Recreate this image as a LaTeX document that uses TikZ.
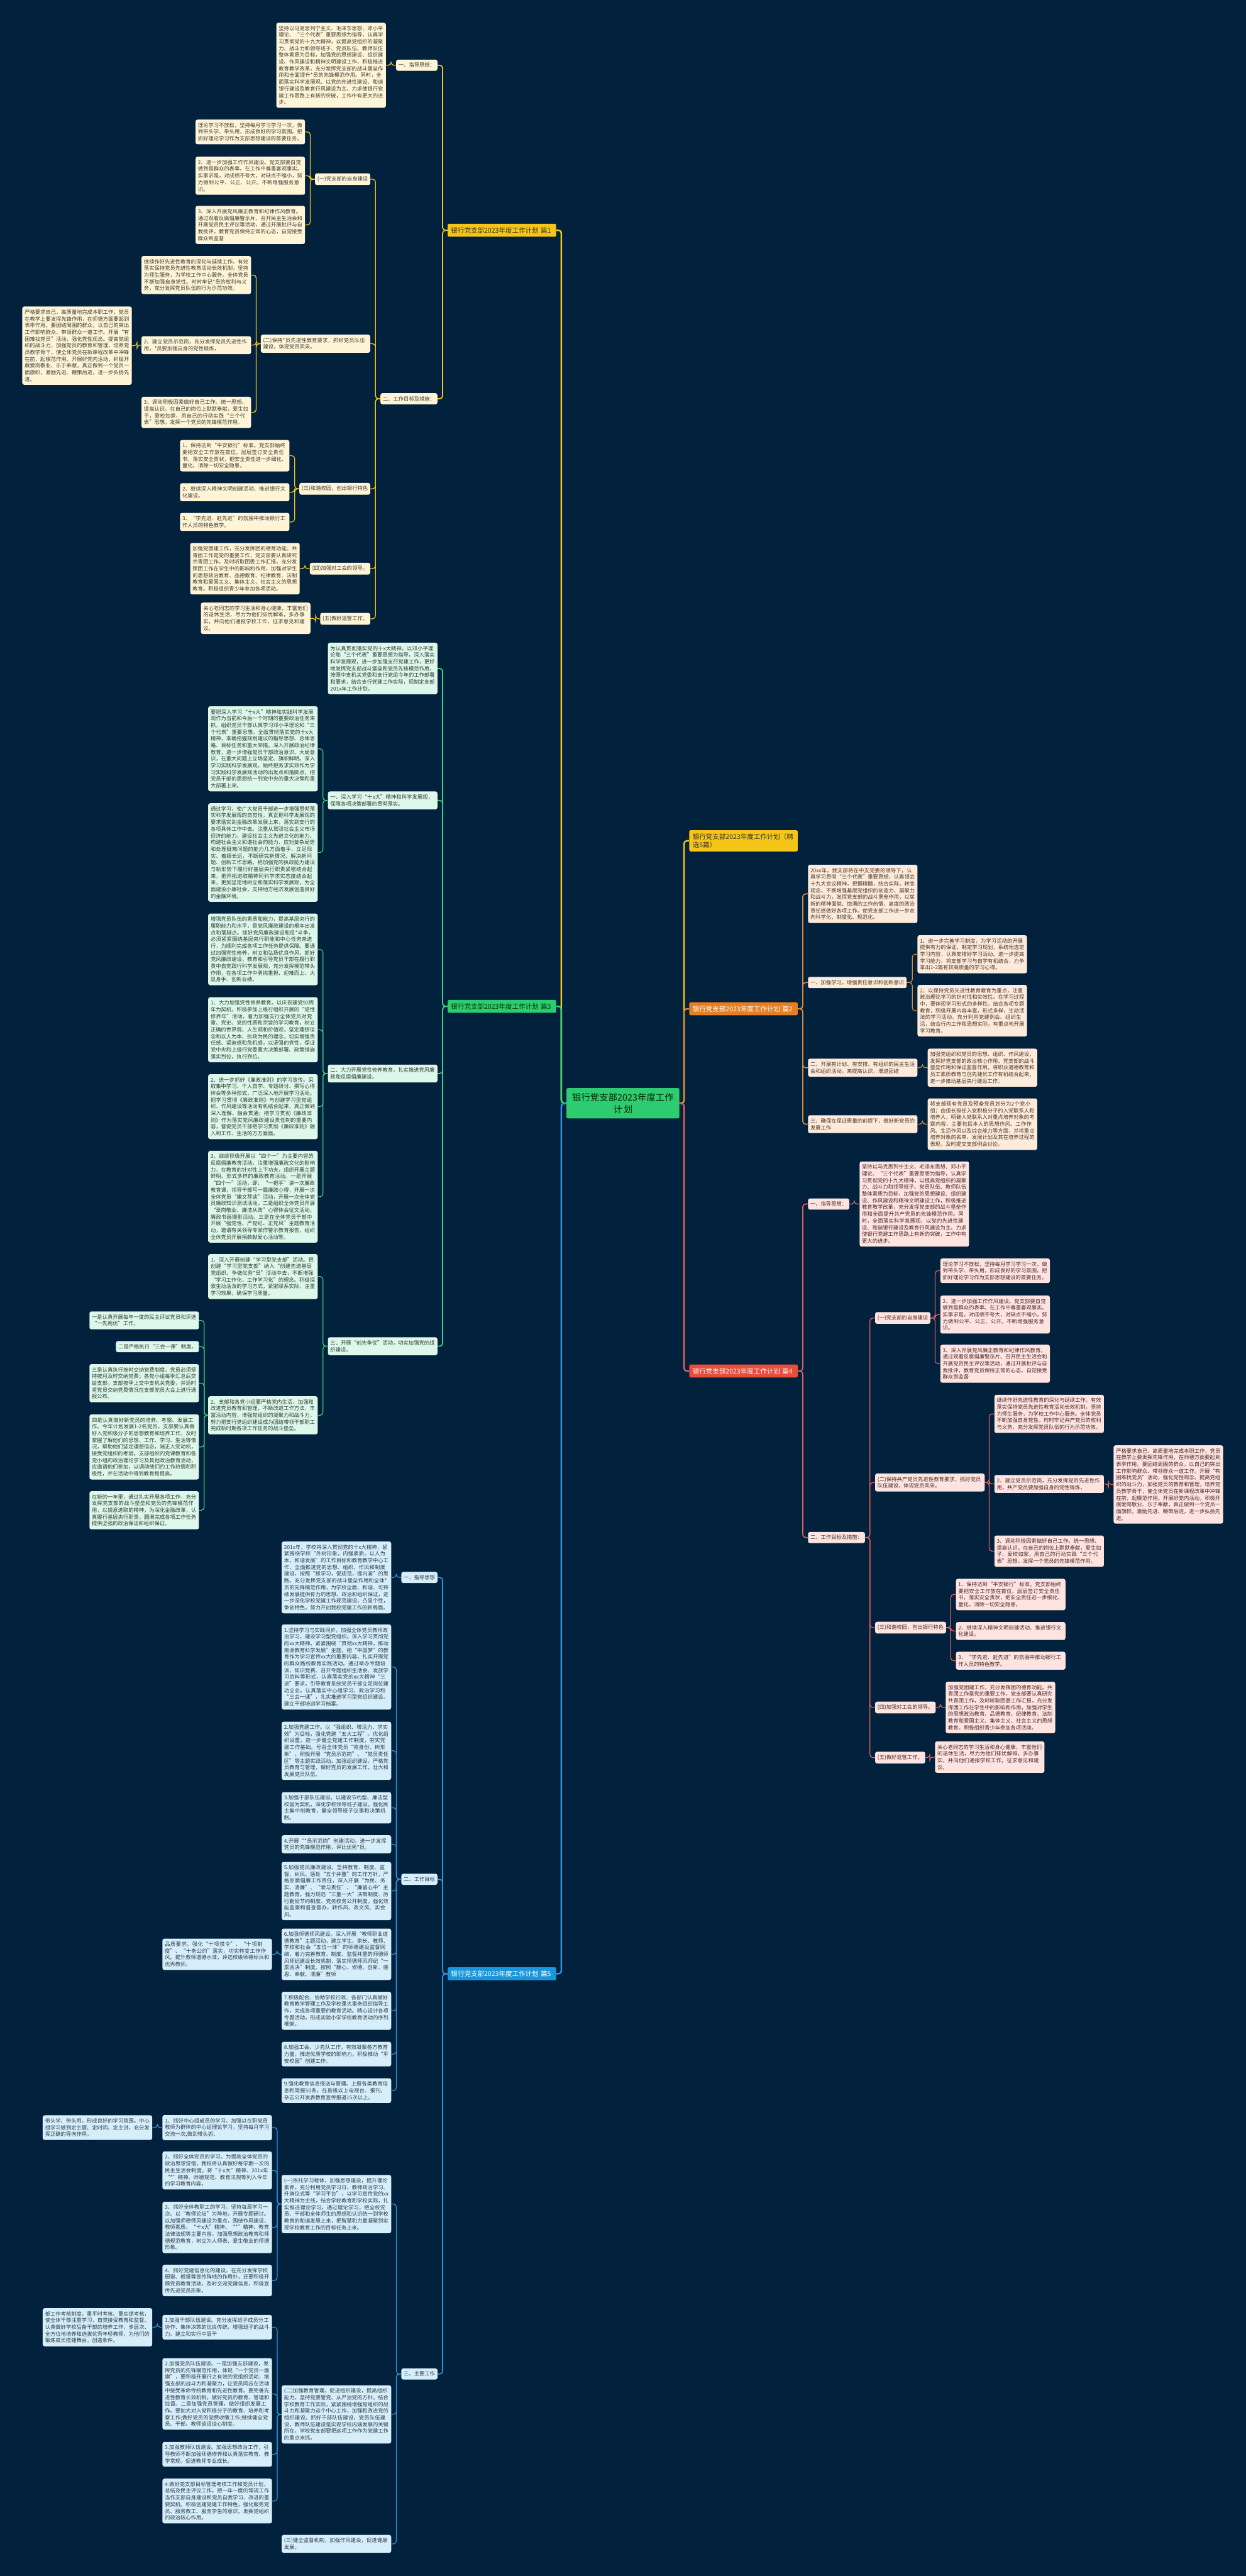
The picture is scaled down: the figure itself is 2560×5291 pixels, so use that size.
\documentclass[tikz,border=0pt]{standalone}
\usepackage{fontspec}
\setmainfont{Noto Sans CJK SC}
\usetikzlibrary{calc}
\XeTeXlinebreaklocale "zh"
\XeTeXlinebreakskip=0pt plus 1pt
\definecolor{bg}{HTML}{02213D}
\definecolor{cY}{HTML}{F0C419}\definecolor{fY}{HTML}{FFF5D6}\definecolor{tY}{HTML}{3B3B3B}
\definecolor{cG}{HTML}{3CCF7C}\definecolor{fG}{HTML}{DDF7EA}\definecolor{tG}{HTML}{2F3B33}
\definecolor{cB}{HTML}{2F95DC}\definecolor{fB}{HTML}{D6EEFA}\definecolor{tB}{HTML}{2C3A44}
\definecolor{cO}{HTML}{D58A3E}\definecolor{fO}{HTML}{FCEADB}\definecolor{tO}{HTML}{4A3624}
\definecolor{cR}{HTML}{E0605B}\definecolor{fR}{HTML}{FDE4E1}\definecolor{tR}{HTML}{4A2828}
\definecolor{lbY}{HTML}{F5C518}\definecolor{lbG}{HTML}{2ECC71}\definecolor{lbB}{HTML}{1A96DC}
\definecolor{lbO}{HTML}{E67E22}\definecolor{lbR}{HTML}{E74C3C}
\newcommand\lfnt{\fontsize{10.7pt}{13.8pt}\selectfont}
\newcommand\bfnt{\fontsize{13.6pt}{16.5pt}\selectfont}
\newcommand\cfnt{\fontsize{18.5pt}{25pt}\selectfont}
\newcommand\lkL[3]{\draw[#1] (#2.west) -- ($(#3.east |- #2.west)+(10.5,0)$) |- (#3.east);}
\newcommand\lkR[3]{\draw[#1] (#2.east) -- ($(#3.west |- #2.east)+(-10.5,0)$) |- (#3.west);}
% shared texts
\newcommand\tGuide[1]{坚持以马克思列宁主义、毛泽东思想、邓小平理论、“三个代表”重要思想为指导，认真学习贯彻党的十九大精神，以提高党组织的凝聚力、战斗力和领导班子、党员队伍、教师队伍整体素质为目标，加强党的思想建设、组织建设、作风建设和精神文明建设工作，积极推进教育教学改革，充分发挥党支部的战斗堡垒作用和全面提升#1的先锋模范作用。同时，全面落实科学发展观、以党的先进性建设、和谐银行建设及教育行风建设为主。力求使银行党建工作思路上有新的突破，工作中有更大的进步。}
\newcommand\tBa{理论学习不放松，坚持每月学习学习一次，做到带头学、带头用，形成良好的学习氛围。把抓好理论学习作为支部思想建设的首要任务。}
\newcommand\tBb{2、进一步加强工作作风建设。党支部要自觉做到是群众的表率。在工作中尊重客观事实。实事求是，对成绩不夸大，对缺点不缩小，努力做到公平、公正、公开。不断增强服务意识。}
\newcommand\tBc{3、深入开展党风廉正教育和纪律作风教育。通过观看反腐倡廉警示片、召开民主生活会和开展党员民主评议等活动，通过开展批评与自我批评，教育党员保持正常的心态，自觉接受群众到监督}
\newcommand\tBk{严格要求自己，高质量地完成本职工作，党员在教学上要发挥先锋作用，在师德方面要起到表率作用。要团结周围的群众，以自己的突出工作影响群众、带领群众一道工作。开展“有困难找党员”活动，强化党性观念。提高党组织的战斗力，加强党员的教育和管理，培养党员教学骨干，使全体党员在新课程改革中冲锋在前，起模范作用。开展好党内活动，积极开展爱岗敬业、乐于奉献，真正做到一个党员一面旗帜，激励先进、鞭策后进，进一步弘扬先进。}
\newcommand\tBm{3、调动积极因素做好自己工作。统一思想、提高认识。在自己的岗位上默默奉献，爱生如子，爱校如家，用自己的行动实践“三个代表”思想。发挥一个党员的先锋模范作用。}
\newcommand\tBn{1、保持达到“平安银行”标准。党支部始终要把安全工作放在首位，层层签订安全责任书，落实安全责状，把安全责任进一步细化、量化。消除一切安全隐患。}
\newcommand\tBo{2、继续深入精神文明创建活动、推进银行文化建设。}
\newcommand\tBp{3、“学先进、赶先进”的氛围中推动银行工作人员的特色教学。}
\newcommand\tBq{加强党团建工作，充分发挥团的德育功能。共青团工作是党的重要工作，党支部要认真研究共青团工作，及时听取团委工作汇报，充分发挥团工作在学生中的影响和作用，加强对学生的思想政治教育、品德教育、纪律教育、法制教育和爱国主义、集体主义、社会主义的思想教育。积极组织青少年参加各项活动。}
\newcommand\tBr{关心老同志的学习生活和身心健康，丰富他们的退休生活，尽力为他们排忧解难，多办事实，并向他们通报学校工作，征求意见和建议。}
\tikzset{
 box/.style={rounded corners=4pt, inner xsep=5pt, inner ysep=6.5pt, font=\lfnt, align=left},
 leaf/.style={box, text width=215pt},
 lab/.style={box},
 atE/.style={anchor=east}, atW/.style={anchor=west},
 kY/.style={fill=fY, text=tY}, kG/.style={fill=fG, text=tG}, kB/.style={fill=fB, text=tB},
 kO/.style={fill=fO, text=tO}, kR/.style={fill=fR, text=tR},
 blab/.style={rounded corners=3pt, inner xsep=7pt, inner ysep=7pt, font=\bfnt, text width=209pt, align=left},
 cenbox/.style={rounded corners=3pt, fill=lbG, text=black!85!green, font=\cfnt, text width=218pt, inner xsep=7pt, inner ysep=10pt, align=center},
 lnY/.style={draw=cY, line width=1.6pt, rounded corners=6pt},
 lnG/.style={draw=cG, line width=1.6pt, rounded corners=6pt},
 lnB/.style={draw=cB, line width=1.6pt, rounded corners=6pt},
 lnO/.style={draw=cO, line width=1.6pt, rounded corners=6pt},
 lnR/.style={draw=cR, line width=1.6pt, rounded corners=6pt},
 thick1/.style={line width=3.2pt},
 thick2/.style={line width=2.2pt}
}
\begin{document}
\begin{tikzpicture}[x=1pt,y=-1pt]
\useasboundingbox (0,0) rectangle (2560,5291);
\fill[bg] (0,0) rectangle (2560,5291);

\node[cenbox] (cen) at (1280,2266) {银行党支部2023年度工作\\计划};

% ===== branch labels
\node[blab, fill=lbY, text=black!80, atE] (P1) at (1143,473) {银行党支部2023年度工作计划 篇1};
\node[blab, fill=lbG, text=black!80!green, atE] (P3) at (1143,2067) {银行党支部2023年度工作计划 篇3};
\node[blab, fill=lbB, text=white, atE] (P5) at (1143,4054) {银行党支部2023年度工作计划 篇5};
\node[blab, fill=lbY, text=black!80, atW] (R0) at (1416,1727) {银行党支部2023年度工作计划（精\\选5篇）};
\node[blab, fill=lbO, text=white, atW] (P2) at (1416,2072) {银行党支部2023年度工作计划 篇2};
\node[blab, fill=lbR, text=white, atW] (P4) at (1416,2816) {银行党支部2023年度工作计划 篇4};

% ===== 篇1
\node[lab,kY,atE] (A1) at (899,134) {一、指导思想：};
\node[leaf,kY,atE] (A1a) at (793,134) {\tGuide{*员}};
\node[lab,kY,atE] (A2) at (899,819) {二、工作目标及措施：};
\node[lab,kY,atE] (B1) at (761,368) {(一)党支部的自身建设};
\node[leaf,kY,atE] (B1a) at (627,271) {\tBa};
\node[leaf,kY,atE] (B1b) at (627,361) {\tBb};
\node[leaf,kY,atE] (B1c) at (627,462) {\tBc};
\node[leaf,kY,atE] (B2) at (761,706) {(二)保持*员先进性教育要求，抓好党员队伍建设，体现党员风采。};
\node[leaf,kY,atE] (B2a) at (516,565) {继续作好先进性教育的深化与延续工作。有效落实保持党员先进性教育活动长效机制，坚持为师生服务，为学校工作中心服务。全体党员不断加强自身党性。时时牢记*员的权利与义务，充分发挥党员队伍的行为示范功效。};
\node[leaf,kY,atE] (B2b) at (516,709) {2、建立党员示范岗，充分发挥党员先进性作用，*员要加强自身的党性锻炼，};
\node[leaf,kY,atE] (B2b1) at (271,710) {\tBk};
\node[leaf,kY,atE] (B2c) at (516,847) {\tBm};
\node[lab,kY,atE] (B3) at (761,1004) {(三)和谐校园，创出银行特色};
\node[leaf,kY,atE] (B3a) at (595,936) {\tBn};
\node[leaf,kY,atE] (B3b) at (595,1011) {\tBo};
\node[leaf,kY,atE] (B3c) at (595,1072) {\tBp};
\node[lab,kY,atE] (B4) at (761,1168) {(四)加强对工会的领导。};
\node[leaf,kY,atE] (B4a) at (616,1168) {\tBq};
\node[lab,kY,atE] (B5) at (761,1271) {(五)做好退管工作。};
\node[leaf,kY,atE] (B5a) at (638,1270) {\tBr};

% ===== 篇3
\node[leaf,kG,atE] (C0) at (899,1373) {为认真贯彻落实党的十x大精神，以邓小平理论和“三个代表”重要思想为指导，深入落实科学发展观，进一步加强支行党建工作，更好地发挥党支部战斗堡垒和党员先锋模范作用，按照中支机关党委和支行党组今年的工作部署和要求，结合支行党建工作实际，现制定支部201x年工作计划。};
\node[leaf,kG,atE] (C1) at (899,1644) {一、深入学习“十x大”精神和科学发展观，保障各项决策部署的贯彻落实。};
\node[leaf,kG,atE] (C1a) at (653,1538) {要把深入学习“十x大”精神和实践科学发展观作为当前和今后一个时期的重要政治任务来抓，组织党员干部认真学习邓小平理论和“三个代表”重要思想，全面贯彻落实党的十x大精神，准确把握规划建议的指导思想、总体思路、目标任务和重大举措。深入开展政治纪律教育，进一步增强党员干部政治意识、大局意识，在重大问题上立场坚定、旗帜鲜明。深入学习实践科学发展观，始终把务求实效作为学习实践科学发展观活动的出发点和落脚点，把党员干部的思想统一到党中央的重大决策和重大部署上来。};
\node[leaf,kG,atE] (C1b) at (653,1751) {通过学习，使广大党员干部进一步增强贯彻落实科学发展观的自觉性，真正把科学发展观的要求落实到金融改革发展上来，落实到支行的各项具体工作中去。注重从驾驭社会主义市场经济的能力、建设社会主义先进文化的能力、构建社会主义和谐社会的能力、应对复杂局势和处理疑难问题的能力几方面着手，立足现实、着眼长远，不断研究新情况、解决新问题、创新工作思路。把加强党的执政能力建设与新形势下履行好基层央行职责紧密结合起来，把开拓进取精神同科学求实态度结合起来，更加坚定地树立和落实科学发展观，为全面建设小康社会，支持地方经济发展创造良好的金融环境。};
\node[leaf,kG,atE] (C2) at (899,2205) {二、大力开展党性修养教育，扎实推进党风廉政和反腐倡廉建设。};
\node[leaf,kG,atE] (C2a) at (653,1950) {增强党员队伍的素质和能力，提高基层央行的履职能力和水平，是党风廉政建设的根本出发点和落脚点。抓好党风廉政建设和反*斗争，必须紧紧围绕基层央行职能和中心任务来进行，为顺利完成各项工作任务提供保障。要通过加强党性修养，树立和弘扬优良作风，抓好党风廉政建设，教育和引导党员干部在履行职责中自觉践行科学发展观，充分发挥模范带头作用，在各项工作中勇挑重担、迎难而上、大显身手、创新业绩。};
\node[leaf,kG,atE] (C2b) at (653,2115) {1、大力加强党性修养教育。以庆祝建党92周年为契机，积极参加上级行组织开展的“党性修养年”活动，着力加强支行全体党员对党章、党史、党的性质和宗旨的学习教育，树立正确的世界观、人生观和价值观，坚定理想信念和以人为本、执政为民的理念，切实增强责任感、紧迫感和危机感，以坚强的党性，保证党中央和上级行党委重大决策部署、政策措施落实到位，执行到位。};
\node[leaf,kG,atE] (C2c) at (653,2273) {2、进一步抓好《廉政准则》的学习宣传。采取集中学习、个人自学、专题研讨、撰写心得体会等多种形式，广泛深入地开展学习活动。把学习贯彻《廉政准则》与创建学习型党组织、作风建设等活动有机结合起来，真正做到深入理解、融会贯通；把学习贯彻《廉政准则》作为落实党风廉政建设责任制的重要内容，督促党员干部把学习贯彻《廉政准则》融入到工作、生活的方方面面。};
\node[leaf,kG,atE] (C2d) at (653,2458) {3、继续积极开展以“四个一”为主要内容的反腐倡廉教育活动。注重增强廉政文化的影响力，在教育的针对性上下功夫，组织开展主题鲜明、形式多样的廉政教育活动。一是开展“四个一”活动，即：“一把手”讲一次廉政教育课，领导干部写一篇廉政心得，开展一次全体党员“廉文荐读”活动，开展一次全体党员廉政知识测试活动。二是组织全体党员开展“爱岗敬业、廉洁从政”心得体会征文活动、廉政书画摄影活动。三是在全体党员干部中开展“强党性、严党纪、正党风”主题教育活动，邀请有关领导专家作警示教育报告，组织全体党员开展捐款献爱心活动等。};
\node[leaf,kG,atE] (C3) at (899,2765) {三、开展“创先争优”活动，切实加强党的组织建设。};
\node[leaf,kG,atE] (C3a) at (653,2622) {1、深入开展创建“学习型党支部”活动。把创建“学习型党支部”纳入“创建先进基层党组织、争做优秀*员”活动中去，不断增强“学习工作化，工作学习化”的理念。积极探索生动活泼的学习方式，紧密联系实际，注重学习效果，确保学习质量。};
\node[leaf,kG,atE] (C3b) at (653,2907) {2、支部和各党小组要严格党内生活，加强和改进党员教育和管理，不断改进工作方法，丰富活动内容，增强党组织的凝聚力和战斗力，努力把支行党组织建设成为团结带领干部职工完成新时期各项工作任务的战斗堡垒。};
\node[leaf,kG,atE] (C3b1) at (409,2712) {一是认真开展每年一度的民主评议党员和评选“一先两优”工作。};
\node[lab,kG,atE] (C3b2) at (409,2766) {二是严格执行“三会一课”制度。};
\node[leaf,kG,atE] (C3b3) at (409,2841) {三是认真执行按时交纳党费制度。党员必须坚持按月及时交纳党费；各党小组每季汇总后交给支部，支部按季上交中支机关党委，并适时将党员交纳党费情况在支部党员大会上进行通报公布。};
\node[leaf,kG,atE] (C3b4) at (409,2972) {四是认真做好新党员的培养、考察、发展工作。今年计划发展1-2名党员，支部要认真做好入党积极分子的思想教育和培养工作，及时掌握了解他们的思想、工作、学习、生活等情况，帮助他们坚定理想信念，端正入党动机，接受党组织的考验。支部组织的党课教育和各党小组的政治理论学习及其他政治教育活动，应邀请他们参加，以调动他们的工作热情和积极性，并在活动中得到教育和提高。};
\node[leaf,kG,atE] (C3b5) at (409,3102) {在新的一年里，通过扎实开展各项工作，充分发挥党支部的战斗堡垒和党员的先锋模范作用，以锐意进取的精神，为深化金融改革，认真履行基层央行职责，圆满完成各项工作任务提供坚强的政治保证和组织保证。};

% ===== 篇5
\node[lab,kB,atE] (D1) at (899,3240) {一、指导思想};
\node[leaf,kB,atE] (D1a) at (804,3240) {201x年，学校将深入贯彻党的十x大精神，紧紧围绕学校“外树形象，内强素质，以人为本，和谐发展”的工作目标和教育教学中心工作，全面推进党的思想、组织、作风和制度建设，按照“抓学习，促规范，提内涵”的思路，充分发挥党支部的战斗堡垒作用和全体*员的先锋模范作用，为学校全面、和谐、可持续发展提供有力的思想、政治和组织保证，进一步深化学校党建工作规范建设，凸显个性，争创特色，努力开创我校党建工作的新局面。};
\node[lab,kB,atE] (D2) at (899,3860) {二、工作目标};
\node[leaf,kB,atE] (D2a) at (804,3424) {1.坚持学习与实践同步，加强全体党员教师政治学习，建设学习型党组织。深入学习贯彻党的xx大精神。紧紧围绕“贯彻xx大精神，推动南洲教育科学发展”主题，把“中国梦”的教育作为学习宣传xx大的重要内容，扎实开展党的群众路线教育实践活动。通过举办专题培训、知识竞赛、召开专题组织生活会、发放学习资料等形式，认真落实党的xx大精神“三进”要求，引导教育系统党员干部立足岗位建功立业。认真落实中心组学习、政治学习和“三会一课”，扎实推进学习型党组织建设。建立干部培训学习档案。};
\node[leaf,kB,atE] (D2b) at (804,3596) {2.加强党建工作。以“强组织、增活力、求实效”为目标，强化党建“五大工程”。优化组织设置，进一步健全党建工作制度，夯实党建工作基础。号召全体党员“亮身份、树形象”，积极开展“党员示范岗”、“党员责任区”等主题实践活动。加强组织建设，严格党员教育与管理，做好党员的发展工作，壮大和发展党员队伍。};
\node[leaf,kB,atE] (D2c) at (804,3713) {3.加强干部队伍建设。以建设节约型、廉洁型校园为契机，深化学校领导班子建设。强化民主集中制教育，健全领导班子议事和决策机制。};
\node[leaf,kB,atE] (D2d) at (804,3788) {4.开展“*员示范岗”创建活动，进一步发挥党员的先锋模范作用，评比优秀*员。};
\node[leaf,kB,atE] (D2e) at (804,3884) {5.加强党风廉政建设。坚持教育、制度、监督、纠风、惩处“五个并重”的工作方针，严格反腐倡廉工作责任，深入开展“为民、务实、清廉”、“爱与责任”、“廉留心中”主题教育。强力规范“三重一大”决策制度、厉行勤俭节约制度、党务校务公开制度。强化效能监察和督查督办，转作风、改文风、实会风。};
\node[leaf,kB,atE] (D2f) at (804,4014) {6.加强师德师风建设。深入开展“教师职业道德教育”主题活动，建立学生、家长、教师、学校和社会“五位一体”的师德建设监督网络，着力完善教育、制度、监督并重的师德师风师纪建设长效机制，落实师德师风师纪“一票否决”制度。按照“静心、修德、创新、感恩、奉献、清廉”教师};
\node[leaf,kB,atE] (D2f1) at (559,4014) {品质要求，强化“十项禁令”、“十项制度”、“十条公约”落实，切实转变工作作风。提升教师道德水准，评选校级师德标兵和优秀教师。};
\node[leaf,kB,atE] (D2g) at (804,4130) {7.积极配合、协助学校行政、各部门认真做好教育教学管理工作及学校重大事务组织指导工作，完成各项重要的教育活动。精心设计各项专题活动，形成实验小学学校教育活动的序列框架。};
\node[leaf,kB,atE] (D2h) at (804,4219) {8.加强工会、少先队工作，有效凝聚各方教育力量，推进优质学校的影响力，积极推动“平安校园”创建工作。};
\node[leaf,kB,atE] (D2i) at (804,4294) {9.强化教育信息报送与管理。上报各类教育信息和简报50条，在县级以上电视台、报刊、杂志公开发表教育宣传报道15次以上。};
\node[lab,kB,atE] (D3) at (899,4876) {三、主要工作};
\node[leaf,kB,atE] (D3a) at (804,4527) {(一)依托学习载体，加强思想建设，提升理论素养。充分利用党员学习日、教师政治学习、升旗仪式等“学习平台”，以学习宣传党的xx大精神为主线，结合学校教育和学校实际，扎实推进理论学习。通过理论学习，把全校党员、干部和全体师生的思想和认识统一到学校教育的和谐发展上来，把智慧和力量凝聚到实现学校教育工作的目标任务上来。};
\node[leaf,kB,atE] (D3a1) at (559,4370) {1、抓好中心组成员的学习。加强以在职党员教师为群体的中心组理论学习，坚持每月学习交流一次,做到带头抓、};
\node[leaf,kB,atE] (D3a1a) at (313,4370) {带头学、带头用，形成良好的学习氛围。中心组学习做到定主题、定时间、定主讲，充分发挥正确的导向作用。};
\node[leaf,kB,atE] (D3a2) at (559,4458) {2、抓好全体党员的学习。为提高全体党员的政治思想觉悟，我校将认真做好每学期一次的民主生活会制度，将“十x大”精神、201x年“*”精神、师德规范、教育法规等列入今年的学习教育内容。};
\node[leaf,kB,atE] (D3a3) at (559,4575) {3、抓好全体教职工的学习。坚持每周学习一次。以“教师论坛”为阵地，开展专题研讨。以加强师德师风建设为重点，围绕作风建设、教师素质、“十x大”精神、“*”精神、教育法律法规等主要内容，加强思想政治教育和师德规范教育，树立为人师表、爱生敬业的师德形象。};
\node[leaf,kB,atE] (D3a4) at (559,4684) {4、抓好党建信息化的建设。在充分发挥学校橱窗、板报等宣传阵地的作用外，还要积极开展党员教育活动，及时交流党建信息，积极宣传先进党员形象。};
\node[leaf,kB,atE] (D3b) at (804,4959) {(二)加强教育管理，促进组织建设，提高组织能力。坚持党要管党、从严治党的方针。结合学校教育工作实际，紧紧围绕增强党组织的战斗力和凝聚力这个中心工作，加强和改进党的组织建设。抓好干部队伍建设，党员队伍建设，教师队伍建设是实现学校内涵发展的关键所在，学校党支部要把这项工作作为党建工作的重点来抓。};
\node[leaf,kB,atE] (D3b1) at (559,4780) {1.加强干部队伍建设。充分发挥班子成员分工协作、集体决策的优良传统，增强班子的战斗力。建立和实行中层干};
\node[leaf,kB,atE] (D3b1a) at (313,4780) {部工作考核制度，重平时考核、重实绩考核，使全体干部注重学习，自觉接受教育和监督。认真做好学校后备干部的培养工作，多层次、全方位地培养和选拔优秀年轻教师，为他们的锻炼成长搭建舞台，创造条件。};
\node[leaf,kB,atE] (D3b2) at (559,4917) {2.加强党员队伍建设。一是加强支部建设，发挥党员的先锋模范作用，体现“一个党员一面旗”，要积极开展行之有效的党组织活动，增强支部的战斗力和凝聚力，让党员同志在活动中接受革命传统教育和先进性教育。要完善先进性教育长效机制，做好党员的教育、管理和监督。二是加强党员管理，做好组织发展工作。要加大对入党积极分子的教育、培养和考察工作;做好党员的党费收缴工作;继续健全党员、干部、教师谈话谈心制度。};
\node[leaf,kB,atE] (D3b3) at (559,5041) {3.加强教师队伍建设。加强思想政治工作，引导教师不断加强师德修养和认真落实教育、教学常规，促进教师专业成长。};
\node[leaf,kB,atE] (D3b4) at (559,5137) {4.做好党支部目标管理考核工作和党员计划、总结及民主评议工作。把一年一度的常规工作当作支部自身建设和党员自我学习、改进的重要契机。积极创建党建工作特色，强化服务党员、服务教工、服务学生的意识，发挥党组织的政治核心作用。};
\node[leaf,kB,atE] (D3c) at (804,5225) {(三)健全监督机制，加强作风建设，促进健康发展。};

% ===== 篇2
\node[leaf,kO,atW] (E0) at (1660,1836) {20xx年，我支部将在中支党委的领导下，认真学习贯彻“三个代表”重要思想，认真领会十九大会议精神，把握精髓，结合实际，转变观念，不断增强基层党组织的创造力、凝聚力和战斗力，发挥党支部的战斗堡垒作用，以崭新的精神面貌、饱满的工作热情、高度的政治责任感做好各项工作。使党支部工作进一步走向科学化、制度化、规范化。};
\node[lab,kO,atW] (E1) at (1660,2018) {一、加强学习，增强责任意识和创新意识};
\node[leaf,kO,atW] (E1a) at (1885,1960) {1、进一步完善学习制度，为学习活动的开展提供有力的保证。制定学习规划，系统地选定学习内容，认真安排好学习活动。进一步提高学习能力，将支部学习与自学有机结合，力争拿出1-2篇有较高质量的学习心得。};
\node[leaf,kO,atW] (E1b) at (1885,2076) {2、以保持党员先进性教育教育为重点，注重政治理论学习的针对性和实效性。在学习过程中，要体现学习形式的多样性。结合各项专题教育，积极开展内容丰富，形式多样，生动活泼的学习活动。充分利用党建例会、组织生活，结合行内工作和思想实际，有重点地开展学习教育。};
\node[leaf,kO,atW] (E2) at (1660,2193) {二、开展有计划、有安排、有组织的民主生活会和组织活动，来提高认识，增进团结};
\node[leaf,kO,atW] (E2a) at (1906,2193) {加强党组织和党员的思想、组织、作风建设，发挥好党支部的政治核心作用、党支部的战斗堡垒作用和保证监督作用，将职业道德教育和员工素质教育与创先建优工作有机结合起来，进一步推动基层央行建设工作。};
\node[leaf,kO,atW] (E3) at (1660,2309) {三、确保在保证质量的前提下，做好新党员的发展工作};
\node[leaf,kO,atW] (E3a) at (1906,2309) {将支部现有党员及预备党员划分为2个党小组；由组长担任入党积极分子的入党联系人和培养人，明确入党联系人对重点培养对象的考察内容，主要包括本人的思想作风、工作作风、生活作风以及综合能力等方面，并将重点培养对象的名单、发展计划及其在培养过程的表现，及时提交支部例会讨论。};

% ===== 篇4
\node[lab,kR,atW] (F1) at (1660,2473) {一、指导思想：};
\node[leaf,kR,atW] (F1a) at (1766,2473) {\tGuide{共产党员}};
\node[lab,kR,atW] (F2) at (1660,3158) {二、工作目标及措施：};
\node[lab,kR,atW] (G1) at (1798,2707) {(一)党支部的自身建设};
\node[leaf,kR,atW] (G1a) at (1932,2610) {\tBa};
\node[leaf,kR,atW] (G1b) at (1932,2700) {\tBb};
\node[leaf,kR,atW] (G1c) at (1932,2801) {\tBc};
\node[leaf,kR,atW] (G2) at (1798,3045) {(二)保持共产党员先进性教育要求，抓好党员队伍建设，体现党员风采。};
\node[leaf,kR,atW] (G2a) at (2043,2904) {继续作好先进性教育的深化与延续工作。有效落实保持党员先进性教育活动长效机制，坚持为师生服务，为学校工作中心服务。全体党员不断加强自身党性。时时牢记共产党员的权利与义务，充分发挥党员队伍的行为示范功效。};
\node[leaf,kR,atW] (G2b) at (2043,3048) {2、建立党员示范岗，充分发挥党员先进性作用，共产党员要加强自身的党性锻炼，};
\node[leaf,kR,atW] (G2b1) at (2288,3049) {\tBk};
\node[leaf,kR,atW] (G2c) at (2043,3186) {\tBm};
\node[lab,kR,atW] (G3) at (1798,3343) {(三)和谐校园，创出银行特色};
\node[leaf,kR,atW] (G3a) at (1964,3275) {\tBn};
\node[leaf,kR,atW] (G3b) at (1964,3350) {\tBo};
\node[leaf,kR,atW] (G3c) at (1964,3411) {\tBp};
\node[lab,kR,atW] (G4) at (1798,3507) {(四)加强对工会的领导。};
\node[leaf,kR,atW] (G4a) at (1943,3507) {\tBq};
\node[lab,kR,atW] (G5) at (1798,3610) {(五)做好退管工作。};
\node[leaf,kR,atW] (G5a) at (1921,3609) {\tBr};

% ===== connectors: top level
\lkL{lnY,thick1}{cen}{P1}
\lkL{lnG,thick1}{cen}{P3}
\lkL{lnB,thick1}{cen}{P5}
\lkR{lnY,thick1}{cen}{R0}
\lkR{lnO,thick1}{cen}{P2}
\lkR{lnR,thick1}{cen}{P4}

% 篇1
\lkL{lnY,thick2}{P1}{A1}
\lkL{lnY,thick2}{P1}{A2}
\lkL{lnY}{A1}{A1a}
\foreach \c in {B1,B2,B3,B4,B5} {\lkL{lnY}{A2}{\c}}
\foreach \c in {B1a,B1b,B1c} {\lkL{lnY}{B1}{\c}}
\foreach \c in {B2a,B2b,B2c} {\lkL{lnY}{B2}{\c}}
\lkL{lnY}{B2b}{B2b1}
\foreach \c in {B3a,B3b,B3c} {\lkL{lnY}{B3}{\c}}
\lkL{lnY}{B4}{B4a}
\lkL{lnY}{B5}{B5a}

% 篇3
\foreach \c in {C0,C1,C2,C3} {\lkL{lnG,thick2}{P3}{\c}}
\foreach \c in {C1a,C1b} {\lkL{lnG}{C1}{\c}}
\foreach \c in {C2a,C2b,C2c,C2d} {\lkL{lnG}{C2}{\c}}
\foreach \c in {C3a,C3b} {\lkL{lnG}{C3}{\c}}
\foreach \c in {C3b1,C3b2,C3b3,C3b4,C3b5} {\lkL{lnG}{C3b}{\c}}

% 篇5
\foreach \c in {D1,D2,D3} {\lkL{lnB,thick2}{P5}{\c}}
\lkL{lnB}{D1}{D1a}
\foreach \c in {D2a,D2b,D2c,D2d,D2e,D2f,D2g,D2h,D2i} {\lkL{lnB}{D2}{\c}}
\lkL{lnB}{D2f}{D2f1}
\foreach \c in {D3a,D3b,D3c} {\lkL{lnB}{D3}{\c}}
\foreach \c in {D3a1,D3a2,D3a3,D3a4} {\lkL{lnB}{D3a}{\c}}
\lkL{lnB}{D3a1}{D3a1a}
\foreach \c in {D3b1,D3b2,D3b3,D3b4} {\lkL{lnB}{D3b}{\c}}
\lkL{lnB}{D3b1}{D3b1a}

% 篇2
\foreach \c in {E0,E1,E2,E3} {\lkR{lnO,thick2}{P2}{\c}}
\foreach \c in {E1a,E1b} {\lkR{lnO}{E1}{\c}}
\lkR{lnO}{E2}{E2a}
\lkR{lnO}{E3}{E3a}

% 篇4
\lkR{lnR,thick2}{P4}{F1}
\lkR{lnR,thick2}{P4}{F2}
\lkR{lnR}{F1}{F1a}
\foreach \c in {G1,G2,G3,G4,G5} {\lkR{lnR}{F2}{\c}}
\foreach \c in {G1a,G1b,G1c} {\lkR{lnR}{G1}{\c}}
\foreach \c in {G2a,G2b,G2c} {\lkR{lnR}{G2}{\c}}
\lkR{lnR}{G2b}{G2b1}
\foreach \c in {G3a,G3b,G3c} {\lkR{lnR}{G3}{\c}}
\lkR{lnR}{G4}{G4a}
\lkR{lnR}{G5}{G5a}
\end{tikzpicture}
\end{document}
